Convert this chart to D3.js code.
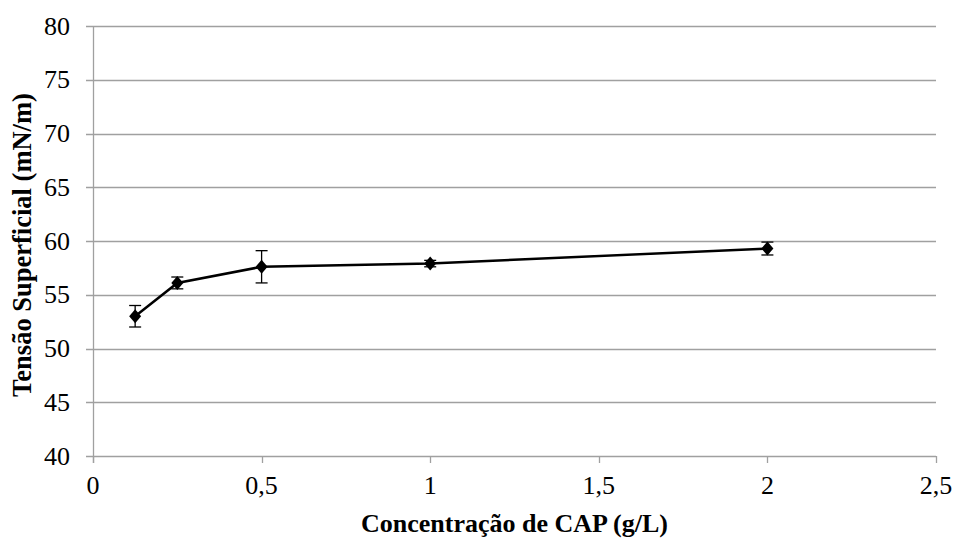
<!DOCTYPE html>
<html><head><meta charset="utf-8">
<script src="https://cdn.jsdelivr.net/npm/d3@7"></script>
<style>body{margin:0;background:#fff} text{font-family:"Liberation Serif","Times New Roman",Times,"DejaVu Serif",serif}</style>
</head><body>
<svg id="chart" width="954" height="541"></svg>
<script>
const concentrations = [0.125, 0.25, 0.5, 1, 2];
const tension = [53.0, 56.1, 57.6, 57.9, 59.3];
const errors = [1.0, 0.55, 1.5, 0.3, 0.6];
const xTicks = [0, 0.5, 1, 1.5, 2, 2.5];
const yTicks = [40, 45, 50, 55, 60, 65, 70, 75, 80];
const xTitle = "Concentração de CAP (g/L)";
const yTitle = "Tensão Superficial (mN/m)";

const svg = d3.select("#chart");
const m = {left: 93, right: 936, top: 26, bottom: 456};
const x = d3.scaleLinear().domain([0, 2.5]).range([m.left, m.right]);
const y = d3.scaleLinear().domain([40, 80]).range([m.bottom, m.top]);
const grid = "#a0a0a0";

svg.append("g").selectAll("line").data(yTicks).join("line")
  .attr("x1", m.left - 7).attr("x2", m.right)
  .attr("y1", d => Math.round(y(d)) + 0.5).attr("y2", d => Math.round(y(d)) + 0.5)
  .attr("stroke", grid).attr("stroke-width", 1.3);

svg.append("line").attr("x1", m.left + 0.5).attr("x2", m.left + 0.5)
  .attr("y1", m.top).attr("y2", m.bottom + 7).attr("stroke", grid).attr("stroke-width", 1.3);

svg.append("g").selectAll("line").data(xTicks).join("line")
  .attr("x1", d => Math.round(x(d)) + 0.5).attr("x2", d => Math.round(x(d)) + 0.5)
  .attr("y1", m.bottom).attr("y2", m.bottom + 7)
  .attr("stroke", grid).attr("stroke-width", 1.3);

const fmt = d => String(d).replace(".", ",");
svg.append("g").selectAll("text").data(yTicks).join("text")
  .attr("x", 70).attr("y", d => y(d)).attr("dy", "0.33em")
  .attr("text-anchor", "end").style("font-size", "26px")
  .text(fmt);
svg.append("g").selectAll("text").data(xTicks).join("text")
  .attr("x", d => x(d)).attr("y", 494)
  .attr("text-anchor", "middle").style("font-size", "26px")
  .text(fmt);

svg.append("text").attr("x", (m.left + m.right) / 2).attr("y", 532)
  .attr("text-anchor", "middle").style("font-weight", "bold")
  .style("font-size", "26px").text(xTitle);
svg.append("text").attr("transform", `translate(31,245) rotate(-90)`)
  .attr("text-anchor", "middle").style("font-weight", "bold")
  .style("font-size", "26.5px").text(yTitle);

const data = concentrations.map((c, i) => ({c, v: tension[i], e: errors[i]}));

svg.append("path").datum(data)
  .attr("d", d3.line().x(d => x(d.c)).y(d => y(d.v)))
  .attr("fill", "none").attr("stroke", "#000").attr("stroke-width", 2.5);

const eb = svg.append("g").attr("stroke", "#000").attr("stroke-width", 1.3);
eb.selectAll(".v").data(data).join("line")
  .attr("x1", d => x(d.c)).attr("x2", d => x(d.c))
  .attr("y1", d => y(d.v - d.e)).attr("y2", d => y(d.v + d.e));
eb.selectAll(".t").data(data).join("line")
  .attr("x1", d => x(d.c) - 6).attr("x2", d => x(d.c) + 6)
  .attr("y1", d => y(d.v + d.e)).attr("y2", d => y(d.v + d.e));
eb.selectAll(".b").data(data).join("line")
  .attr("x1", d => x(d.c) - 6).attr("x2", d => x(d.c) + 6)
  .attr("y1", d => y(d.v - d.e)).attr("y2", d => y(d.v - d.e));

svg.append("g").selectAll("path").data(data).join("path")
  .attr("transform", d => `translate(${x(d.c)},${y(d.v)})`)
  .attr("d", "M0,-7L6,0L0,7L-6,0Z").attr("fill", "#000");
</script>
</body></html>
